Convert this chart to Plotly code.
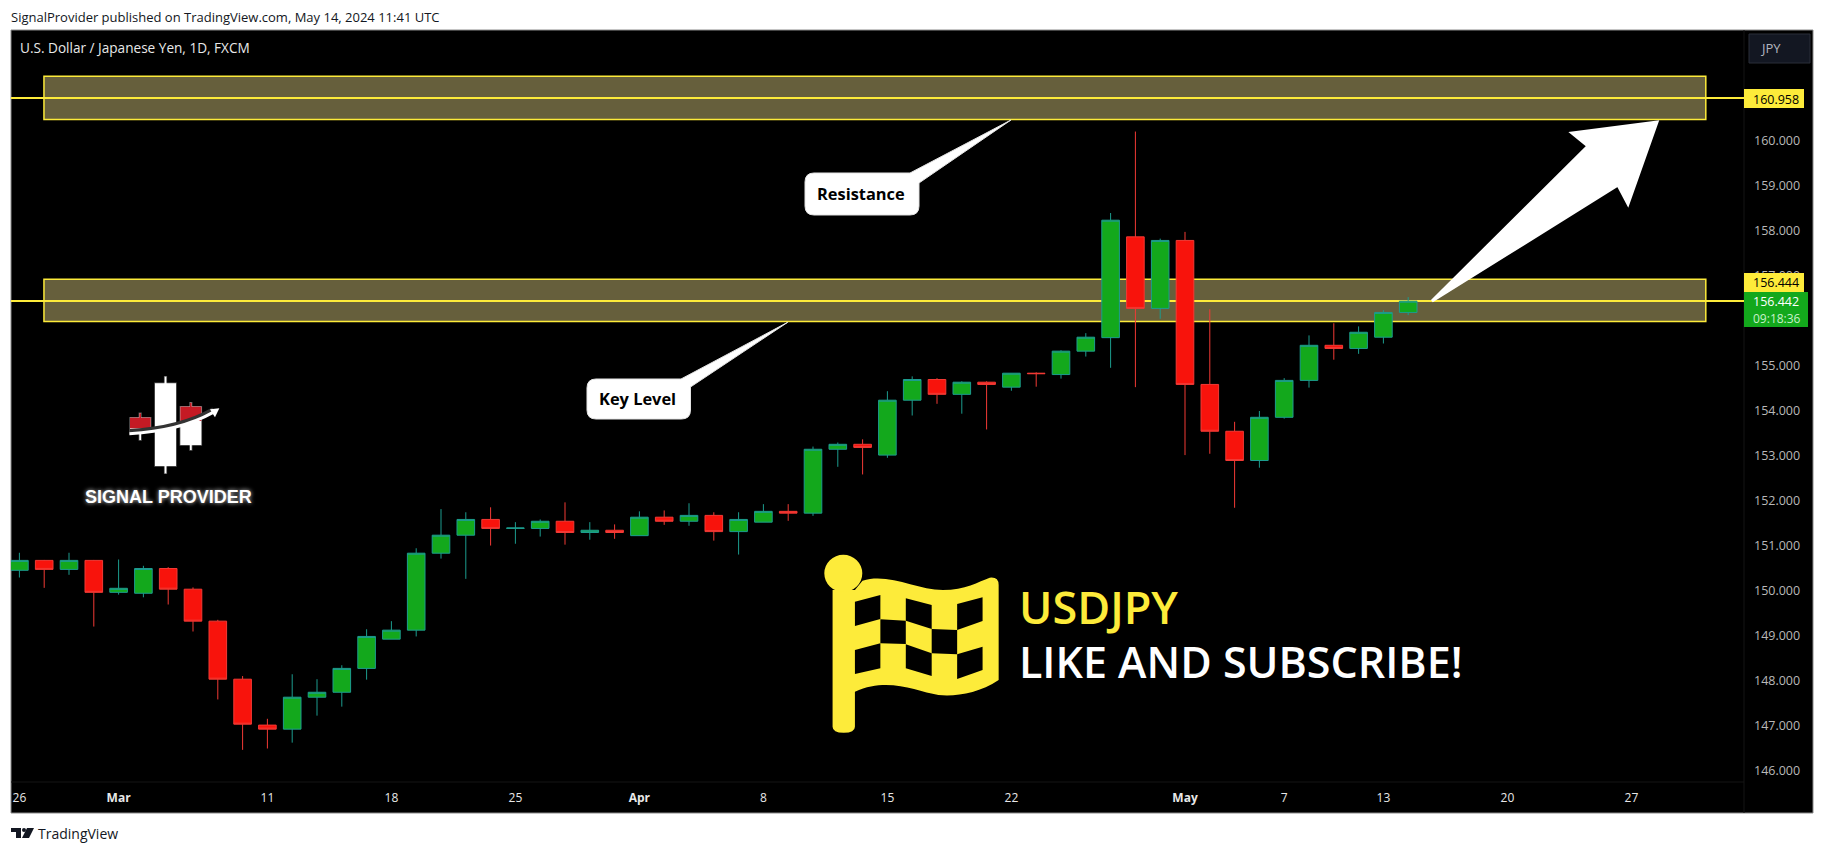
import plotly.graph_objects as go

# ---------- data ----------
dates = ["02-26","02-27","02-28","02-29","03-01","03-04","03-05","03-06","03-07","03-08",
         "03-11","03-12","03-13","03-14","03-15","03-18","03-19","03-20","03-21","03-22",
         "03-25","03-26","03-27","03-28","03-29","04-01","04-02","04-03","04-04","04-05",
         "04-08","04-09","04-10","04-11","04-12","04-15","04-16","04-17","04-18","04-19",
         "04-22","04-23","04-24","04-25","04-26","04-29","04-30","05-01","05-02","05-03",
         "05-06","05-07","05-08","05-09","05-10","05-13","05-14"]
open_ = [150.46,150.68,150.48,150.68,149.97,149.95,150.50,150.04,149.33,148.04,
         147.02,146.93,147.64,147.75,148.28,148.93,149.13,150.84,151.24,151.59,
         151.39,151.39,151.55,151.30,151.35,151.23,151.64,151.55,151.68,151.32,
         151.53,151.77,151.73,153.15,153.26,153.02,154.24,154.70,154.37,154.64,
         154.53,154.84,154.81,155.33,155.63,157.87,156.28,157.79,154.59,153.55,
         152.90,153.86,154.68,155.46,155.39,155.64,156.19]
high_ = [150.85,150.69,150.85,150.69,150.70,150.56,150.53,150.08,149.36,148.11,
         147.16,148.15,148.04,148.35,149.15,149.33,150.95,151.82,151.75,151.86,
         151.53,151.59,151.97,151.53,151.48,151.77,151.79,151.95,151.75,151.75,
         151.93,151.93,153.21,153.30,153.37,154.44,154.77,154.73,154.66,154.66,
         154.84,154.86,155.35,155.73,158.40,160.21,157.83,157.98,156.26,153.76,
         154.00,154.73,155.68,155.95,155.88,156.24,156.53]
low_ = [150.30,150.07,150.36,149.21,149.92,149.86,149.70,149.10,147.59,146.47,
        146.50,146.63,147.23,147.43,148.03,148.93,148.99,150.72,150.27,151.01,
        151.05,151.21,151.03,151.14,151.16,151.23,151.47,151.45,151.12,150.81,
        151.53,151.56,151.67,152.76,152.59,152.96,153.90,154.16,153.94,153.59,
        154.45,154.54,154.72,155.21,154.96,154.53,156.05,153.02,153.05,151.85,
        152.74,153.83,154.52,155.14,155.27,155.50,156.13]
close_ = [150.68,150.48,150.68,149.97,150.06,150.50,150.04,149.33,148.04,147.04,
          146.93,147.64,147.75,148.28,148.99,149.13,150.84,151.24,151.59,151.39,
          151.40,151.55,151.30,151.35,151.30,151.64,151.55,151.68,151.32,151.59,
          151.77,151.73,153.15,153.26,153.19,154.24,154.70,154.37,154.64,154.59,
          154.84,154.83,155.33,155.64,158.24,156.28,157.79,154.59,153.55,152.90,
          153.86,154.68,155.46,155.39,155.75,156.19,156.44]

x_tick_positions = [0, 4, 10, 15, 20, 25, 30, 35, 40, 47, 51, 55, 60, 65]
x_tick_labels = ["26", "<b>Mar</b>", "11", "18", "25", "<b>Apr</b>", "8", "15", "22",
                 "<b>May</b>", "7", "13", "20", "27"]
y_ticks = [146,147,148,149,150,151,152,153,154,155,156,157,158,159,160]

upper_zone = (160.48, 161.44)
lower_zone = (155.99, 156.93)
zone_bars = (0.99, 68.0)
level_upper = 160.958
level_lower = 156.444

# ---------- page geometry ----------
W, H = 1824, 853
L, T, R, B = 11, 30, 1744, 782
FONT = "Open Sans"
YEL = "#fdeb3a"
GREEN = "#13a81c"
RED = "#f8130c"
X_RANGE = [(L - 19.4) / 24.8, (R - 19.4) / 24.8]


def px(x):
    return (x - L) / (R - L)


def py(y):
    return (B - y) / (B - T)


def P(x, y):
    return f"{px(x):.5f},{py(y):.5f}"


def poly(points):
    return "M" + " L".join(P(*p) for p in points) + " Z"


def paper_shape(path, fill, line="rgba(0,0,0,0)", width=0, layer="above"):
    return dict(type="path", xref="paper", yref="paper", path=path, fillcolor=fill,
                line=dict(color=line, width=width), layer=layer)


def paper_rect(x0, y0, x1, y1, fill, line="rgba(0,0,0,0)", width=0, layer="above"):
    return dict(type="rect", xref="paper", yref="paper", x0=px(x0), x1=px(x1),
                y0=py(y1), y1=py(y0), fillcolor=fill,
                line=dict(color=line, width=width), layer=layer)


def note(x, y, text, size=12, color="#000", anchor="left", family=FONT, shadow=None, weight=None):
    font = dict(family=family, size=size, color=color)
    if shadow:
        font["shadow"] = shadow
    if weight:
        font["weight"] = weight
    return dict(xref="paper", yref="paper", x=px(x), y=py(y), text=text, showarrow=False,
                xanchor=anchor, yanchor="middle", font=font, borderpad=0, borderwidth=0)


def callout(x0, y0, x1, y1, tail, r=9):
    bx, tx, ty, by = tail
    return ("M" + P(x0 + r, y0) + " L" + P(bx, y0) + " L" + P(tx, ty) + " L" + P(x1, by)
            + " L" + P(x1, y1 - r) + " Q" + P(x1, y1) + " " + P(x1 - r, y1)
            + " L" + P(x0 + r, y1) + " Q" + P(x0, y1) + " " + P(x0, y1 - r)
            + " L" + P(x0, y0 + r) + " Q" + P(x0, y0) + " " + P(x0 + r, y0) + " Z")


def flag(xz, yz):
    return (800 + xz / 2.24, 540 + yz / 3)


def fP(xz, yz):
    return P(*flag(xz, yz))


def logo(xz, yz):
    return (100 + xz / 3, 360 + yz / 3)


shapes = [
    paper_rect(11, 30, 1813, 813, "#000", "#8a8a8a", 1, "below"),
    dict(type="line", xref="paper", yref="paper", x0=1, x1=1, y0=py(813), y1=1,
         line=dict(color="#141414", width=1), layer="below"),
    dict(type="line", xref="paper", yref="paper", x0=0, x1=1, y0=0, y1=0,
         line=dict(color="#141414", width=1), layer="below"),
]

# zones and levels (under the candles)
for lo, hi in (upper_zone, lower_zone):
    shapes.append(dict(type="rect", xref="x", yref="y", x0=zone_bars[0], x1=zone_bars[1],
                       y0=lo, y1=hi, fillcolor="#665f3c",
                       line=dict(color=YEL, width=1.5), layer="below"))
for lvl in (level_upper, level_lower):
    shapes.append(dict(type="line", xref="x", yref="y", x0=X_RANGE[0], x1=X_RANGE[1], y0=lvl, y1=lvl,
                       line=dict(color=YEL, width=2), layer="below"))

# big arrow
arrow_pts = [(1432, 301), (1588, 146), (1572, 133), (1657, 122), (1628, 204), (1618, 185)]
shapes.append(paper_shape(poly(arrow_pts), "#fff", "#fff", 3))

# callouts
shapes.append(paper_shape(callout(805, 173, 919, 215, (910, 1011, 120, 183)), "#fff", "#e4e4e4", 1))
shapes.append(paper_shape(callout(587, 379, 690.5, 419, (681, 787.7, 322.3, 387)), "#fff", "#e4e4e4", 1))

# price tags
shapes += [
    paper_rect(1744, 89, 1804, 108, YEL),
    paper_rect(1744, 273, 1804, 292, YEL),
    paper_rect(1744, 292, 1808, 327, GREEN),
    dict(type="rect", xref="paper", yref="paper", x0=px(1749), x1=px(1810), y0=py(63), y1=py(34),
         fillcolor="#131722", line=dict(color="#2a2e39", width=1), layer="above"),
]

# checkered flag
flag_body = ("M" + fP(73, 150) + " L" + fP(123, 150)
             + " L" + fP(140, 122)
             + " C" + fP(200, 98) + " " + fP(260, 150) + " " + fP(320, 150)
             + " C" + fP(370, 150) + " " + fP(400, 125) + " " + fP(425, 113)
             + " Q" + fP(445, 110) + " " + fP(445, 135)
             + " L" + fP(445, 420)
             + " C" + fP(400, 460) + " " + fP(350, 470) + " " + fP(310, 465)
             + " C" + fP(260, 455) + " " + fP(200, 410) + " " + fP(123, 455)
             + " L" + fP(123, 560) + " Q" + fP(123, 578) + " " + fP(98, 578)
             + " Q" + fP(73, 578) + " " + fP(73, 560) + " Z")
shapes.append(paper_shape(flag_body, YEL))
head_cx, head_cy = flag(97, 100)
shapes.append(dict(type="circle", xref="paper", yref="paper",
                   x0=px(head_cx - 19), x1=px(head_cx + 19),
                   y0=py(head_cy + 18.5), y1=py(head_cy - 18.5),
                   fillcolor=YEL, line=dict(width=0), layer="above"))
for cell in [
    [(123, 185), (180, 165), (180, 237), (123, 258)],
    [(237, 175), (295, 195), (295, 267), (237, 242)],
    [(352, 192), (409, 172), (409, 243), (352, 270)],
    [(180, 238), (237, 242), (237, 312), (180, 310)],
    [(295, 267), (352, 270), (352, 343), (295, 340)],
    [(123, 330), (180, 310), (180, 385), (123, 402)],
    [(237, 313), (295, 340), (295, 408), (237, 385)],
    [(352, 343), (409, 320), (409, 390), (352, 417)],
]:
    shapes.append(paper_shape(poly([flag(*c) for c in cell]), "#000"))

# signal provider logo
glow = "rgba(255,255,255,0.35)"
for rect, fill in [
    ((165, 70, 228, 318), "#fff"),
    ((194, 50, 199, 340), "#fff"),
    ((241, 140, 304, 255), "#fff"),
    ((270, 128, 275, 270), "#fff"),
    ((90, 173, 152, 215), "#fff"),
    ((118, 160, 123, 240), "#fff"),
]:
    a = logo(rect[0], rect[1])
    b = logo(rect[2], rect[3])
    shapes.append(paper_rect(a[0], a[1], b[0], b[1], fill, glow, 1.5))
for rect in [(90, 173, 152, 205), (241, 140, 304, 183), (118, 160, 123, 175), (270, 128, 275, 142)]:
    a = logo(rect[0], rect[1])
    b = logo(rect[2], rect[3])
    shapes.append(paper_rect(a[0], a[1], b[0], b[1], "#c41a24"))
curve_dark = ("M" + P(*logo(90, 213)) + " Q" + P(*logo(240, 205)) + " " + P(*logo(340, 148)))
curve_white = ("M" + P(*logo(88, 221)) + " Q" + P(*logo(240, 213)) + " " + P(*logo(338, 158)))
shapes.append(dict(type="path", xref="paper", yref="paper", path=curve_dark,
                   line=dict(color="#333", width=4), layer="above"))
shapes.append(dict(type="path", xref="paper", yref="paper", path=curve_white,
                   line=dict(color="#fff", width=3), layer="above"))
shapes.append(paper_shape(poly([logo(358, 145), logo(330, 148), logo(336, 158), logo(345, 172)]), "#fff"))

# TradingView mark
shapes.append(paper_shape(poly([(11, 828), (21, 828), (21, 838), (16, 838), (16, 832), (11, 832)]), "#131722"))
shapes.append(paper_shape(poly([(27, 828), (34, 828), (29, 838), (22, 838)]), "#131722"))
shapes.append(dict(type="circle", xref="paper", yref="paper", x0=px(22), x1=px(26), y0=py(832), y1=py(828),
                   fillcolor="#131722", line=dict(width=0), layer="above"))

annotations = [
    note(11, 17, "SignalProvider published on TradingView.com, May 14, 2024 11:41 UTC", 13, "#131722"),
    note(20, 47, "U.S. Dollar / Japanese Yen, 1D, FXCM", 13.6, "#e8e8e8"),
    note(1760, 48, "JPY", 13, "#b2b5be"),
    note(1753, 99, "160.958", 12.5, "#000"),
    note(1753, 282, "156.444", 12.5, "#000"),
    note(1753, 301, "156.442", 12.5, "#fff"),
    note(1753, 318, "09:18:36", 12, "#c8f0ca"),
    note(817, 193, "<b>Resistance</b>", 16.4, "#000"),
    note(599, 398, "<b>Key Level</b>", 16.4, "#000"),
    note(1019, 606, "USDJPY", 45, YEL, weight=600),
    note(1019, 661, "LIKE AND SUBSCRIBE!", 43, "#fff", weight=600),
    note(85, 497, "<b>SIGNAL PROVIDER</b>", 18, "#fff", family="Liberation Sans",
         shadow="0 0 4px rgba(255,255,255,0.8)"),
    note(38, 833, "TradingView", 14, "#131722"),
]

fig = go.Figure(go.Candlestick(
    x=list(range(len(dates))),
    customdata=dates,
    open=open_, high=high_, low=low_, close=close_,
    increasing=dict(line=dict(color="#1c9c8e", width=1), fillcolor=GREEN),
    decreasing=dict(line=dict(color="#f23a35", width=1), fillcolor=RED),
    whiskerwidth=0,
    showlegend=False,
))

fig.update_layout(
    width=W, height=H,
    margin=dict(l=L, t=T, r=W - R, b=H - B, pad=0),
    paper_bgcolor="#ffffff",
    plot_bgcolor="#000000",
    boxmode="overlay",
    boxgap=0.29,
    boxgroupgap=0,
    shapes=shapes,
    annotations=annotations,
    font=dict(family=FONT),
    showlegend=False,
    xaxis=dict(
        range=X_RANGE,
        rangeslider=dict(visible=False),
        tickmode="array", tickvals=x_tick_positions, ticktext=x_tick_labels,
        tickfont=dict(family=FONT, size=12, color="#e8e8e8"),
        showgrid=False, zeroline=False, showline=False, ticks="", ticklabelstandoff=7,
    ),
    yaxis=dict(
        side="right",
        range=[146 + (771 - B) / 45, 146 + (771 - T) / 45],
        tickmode="array", tickvals=y_ticks,
        ticktext=[f"{v:.3f}" for v in y_ticks],
        tickfont=dict(family=FONT, size=12.5, color="#b8b8b8"),
        showgrid=False, zeroline=False, showline=False, ticks="", ticklabelstandoff=9,
    ),
)

fig.write_html("out.html", config=dict(displayModeBar=False),
               post_script="document.body.style.margin='0';document.body.style.overflow='hidden';")
